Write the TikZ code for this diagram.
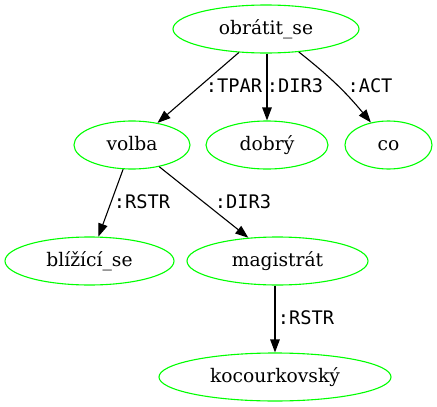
\documentclass[tikz,border=0pt]{standalone}
\usepackage{fontspec}
\setmainfont{DejaVu Serif}
\newfontfamily\relfont{DejaVu Sans Mono}
\usepackage{tikz}
\usetikzlibrary{shapes.geometric,arrows.meta}

\begin{document}
\begin{tikzpicture}[x=1pt,y=-1pt, font=\fontsize{18.67}{22}\selectfont,
  word/.style={ellipse,draw=green,line width=1.1pt,inner sep=0pt,
    minimum height=48pt,text height=14pt,text depth=3.4pt},
  rel/.style={font=\fontsize{18.67}{22}\selectfont\relfont,inner sep=0pt},
  dep/.style={-{Triangle[length=13pt,width=9.5pt]},line width=1.1pt}]
 \useasboundingbox (0,0) rectangle (437,407);
 \node[word,minimum width=186pt] (obratit) at (266,29) {obrátit\_se};
 \node[word,minimum width=116pt] (volba) at (132,145) {volba};
 \node[word,minimum width=122pt] (dobry) at (267,145) {dobrý};
 \node[word,minimum width=87pt] (co) at (388.5,145) {co};
 \node[word,minimum width=169pt] (blizici) at (89.5,261) {blížící\_se};
 \node[word,minimum width=181pt] (magistrat) at (277.5,261) {magistrát};
 \node[word,minimum width=232pt] (kocour) at (275,377) {kocourkovský};
 \draw[dep] (obratit) -- (volba);
 \draw[dep] (obratit.south -| dobry) -- (dobry);
 \draw[dep] (obratit.-35) to[bend left=6] (co.128);
 \draw[dep] (volba) -- (blizici);
 \draw[dep] (volba) -- (magistrat);
 \draw[dep] (magistrat.south -| kocour) -- (kocour);
 \node[rel] (tpar) at (234,85.5) {:TPAR};
 \node[rel] (dirA) at (295,85.5) {:DIR3};
 \node[rel] (act) at (370,85.5) {:ACT};
 \node[rel] (rstrA) at (142,202) {:RSTR};
 \node[rel] (dirB) at (243,202) {:DIR3};
 \node[rel] (rstrB) at (306,318) {:RSTR};
\end{tikzpicture}
\end{document}
